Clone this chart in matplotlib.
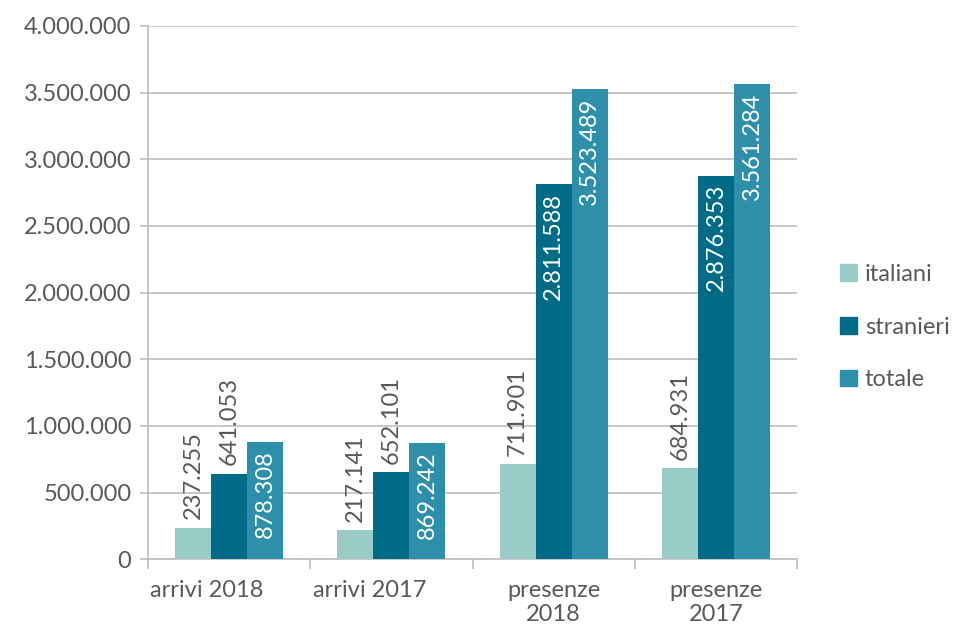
import matplotlib
matplotlib.use("Agg")
import matplotlib.pyplot as plt
import matplotlib.transforms as mtransforms
import numpy as np
from matplotlib.ticker import FuncFormatter, FixedLocator
from matplotlib.patches import Patch

# --- dati ---
categorie = ["arrivi 2018", "arrivi 2017", "presenze\n2018", "presenze\n2017"]
serie = ["italiani", "stranieri", "totale"]
italiani = [237255, 217141, 711901, 684931]
stranieri = [641053, 652101, 2811588, 2876353]
totale = [878308, 869242, 3523489, 3561284]

colori = ["#99CCC6", "#006B87", "#2E8FAA"]
grigio = "#595959"

plt.rcParams["font.family"] = ["Lato", "DejaVu Sans"]

fig = plt.figure(figsize=(9.58, 6.29), dpi=100)
ax = fig.add_axes([0.1545, 0.111, 0.6775, 0.8477])

x = np.arange(len(categorie))
w = 0.222
valori = [italiani, stranieri, totale]


def fmt(v):
    return f"{int(v):,}".replace(",", ".")


for i, (nome, vals, col) in enumerate(zip(serie, valori, colori)):
    pos = x + (i - 1) * w
    ax.bar(pos, vals, width=w, color=col, label=nome, zorder=3)
    for xp, v in zip(pos, vals):
        # etichetta dentro la barra se c'e' spazio, altrimenti sopra
        if v > 750000 and i > 0:
            ax.annotate(fmt(v), (xp, v), xytext=(0, -6), textcoords="offset points",
                        rotation=90, ha="center", va="top", color="white",
                        fontsize=17, zorder=4)
        else:
            ax.annotate(fmt(v), (xp, v), xytext=(0, 6), textcoords="offset points",
                        rotation=90, ha="center", va="bottom", color=grigio,
                        fontsize=17, zorder=4)

ax.set_xlim(-0.5, len(categorie) - 0.5)
ax.set_ylim(0, 4000000)
ax.set_yticks(np.arange(0, 4000001, 500000))
ax.yaxis.set_major_formatter(FuncFormatter(lambda v, p: fmt(v)))
ax.grid(axis="y", color="#BFBFBF", linewidth=1.2, zorder=0)

ax.set_xticks(x)
ax.set_xticklabels(categorie, va="top", linespacing=1.15)
ax.xaxis.set_minor_locator(FixedLocator(np.arange(-0.5, len(categorie), 1.0)))
ax.tick_params(axis="x", which="major", length=0, pad=15, labelsize=17, labelcolor=grigio)
ax.tick_params(axis="x", which="minor", length=7, color="#BFBFBF", width=1.2)
ax.tick_params(axis="y", length=6, color="#BFBFBF", width=1.2, labelsize=17,
               labelcolor=grigio, pad=6)

# le etichette su una riga sono spostate a sinistra come nell'originale
for lab in ax.get_xticklabels():
    if "\n" not in lab.get_text():
        lab.set_transform(lab.get_transform() +
                          mtransforms.ScaledTranslation(-0.22, 0, fig.dpi_scale_trans))

for s in ["top", "right"]:
    ax.spines[s].set_visible(False)
for s in ["left", "bottom"]:
    ax.spines[s].set_color("#BFBFBF")
    ax.spines[s].set_linewidth(1.2)

handles = [Patch(color=c) for c in colori]
fig.legend(handles, serie, loc="center left", bbox_to_anchor=(0.877, 0.48),
           frameon=False, fontsize=17, labelcolor=grigio, handlelength=0.7,
           handleheight=0.7, handletextpad=0.35, labelspacing=1.35, borderpad=0,
           borderaxespad=0)

fig.savefig("out.png", dpi=100)
